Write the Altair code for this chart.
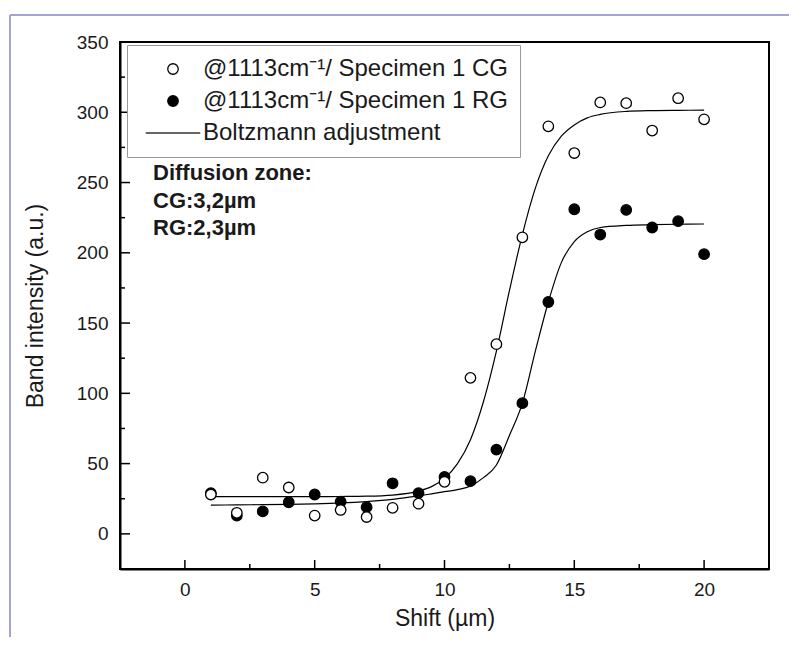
import altair as alt
import pandas as pd

# ---- data ----
shift = [1, 2, 3, 4, 5, 6, 7, 8, 9, 10, 11, 12, 13, 14, 15, 16, 17, 18, 19, 20]
cg_intensity = [28, 15, 40, 33, 13, 17, 12, 18.5, 21.5, 37, 111, 135, 211, 290, 271, 307, 306.5, 287, 310, 295]
rg_intensity = [29, 13, 16, 22.5, 28, 23, 19, 36, 29, 40.5, 37.5, 60, 93, 165, 231, 213, 230.5, 218, 222.5, 199]

fit_shift = [1, 2, 3, 4, 5, 6, 7, 8, 9, 9.5, 10, 10.5, 11, 11.5, 12, 12.5, 13, 13.5, 14, 14.5, 15, 15.5, 16, 17, 18, 19, 20]
cg_fit = [26.5, 26.5, 26.5, 26.5, 26.5, 26.6, 26.8, 27.6, 30.4, 33.6, 39.5, 50, 67, 94, 130, 173, 213, 246, 269, 283, 291, 296, 298.5, 300.6, 301.2, 301.4, 301.5]
rg_fit = [20.5, 20.6, 20.8, 21.0, 21.4, 22.0, 23.0, 24.5, 27.0, 28.5, 30.0, 31.5, 34, 40, 49, 70, 93, 130, 165, 193, 208, 215, 218, 219.5, 220, 220.3, 220.5]

CG = "@1113cm\u207b\u00b9/ Specimen 1 CG"
RG = "@1113cm\u207b\u00b9/ Specimen 1 RG"
FIT = "Boltzmann adjustment"
series_names = [CG, RG, FIT]
annotation_lines = ["Diffusion zone:", "CG:3,2\u00b5m", "RG:2,3\u00b5m"]
x_major = [0, 5, 10, 15, 20]
x_minor = [2.5, 7.5, 12.5, 17.5]
y_major = [0, 50, 100, 150, 200, 250, 300, 350]
y_minor = [25, 75, 125, 175, 225, 275, 325]

points_df = pd.DataFrame({
    "series": [RG] * len(shift) + [CG] * len(shift),
    "shift": shift + shift,
    "intensity": rg_intensity + cg_intensity,
})
fit_df = pd.DataFrame({
    "curve": ["CG"] * len(fit_shift) + ["RG"] * len(fit_shift),
    "shift": fit_shift + fit_shift,
    "intensity": cg_fit + rg_fit,
})
xmaj_df = pd.DataFrame({"shift": x_major})
xmin_df = pd.DataFrame({"shift": x_minor})
ymaj_df = pd.DataFrame({"intensity": y_major})
ymin_df = pd.DataFrame({"intensity": y_minor})
dummy = pd.DataFrame({"k": [0]})

FONT = "Liberation Sans"
INK = "#1a1a1a"

x_scale = alt.Scale(domain=[-2.5, 22.5], nice=False, zero=False)
y_scale = alt.Scale(domain=[-25, 350], nice=False, zero=False)

x_axis = alt.Axis(values=x_major, ticks=False, labelPadding=11, titlePadding=8, grid=False)
y_axis = alt.Axis(values=y_major, ticks=False, labelPadding=12, titlePadding=29, grid=False)

X = alt.X("shift:Q", scale=x_scale, axis=x_axis, title="Shift (\u00b5m)")
Y = alt.Y("intensity:Q", scale=y_scale, axis=y_axis, title="Band intensity (a.u.)")

legend = alt.Legend(
    title=None, orient="none", legendX=7, legendY=3, padding=12,
    strokeColor="#9a9a9a", fillColor="white",
    labelFont=FONT, labelFontSize=24, labelColor=INK, labelLimit=700,
    symbolSize=110, symbolStrokeWidth=1.3,
    symbolOffset=22, labelOffset=18, rowPadding=8,
)

lines = alt.Chart(fit_df).mark_line(
    color="black", strokeWidth=1.2, interpolate="monotone"
).encode(x=X, y=Y, detail="curve:N")

points = alt.Chart(points_df).mark_point(
    filled=True, strokeWidth=1.3, size=110, opacity=1
).encode(
    x=X, y=Y,
    shape=alt.Shape("series:N", scale=alt.Scale(domain=series_names, range=["circle", "circle", "M-5.2,0H5.2"]), legend=legend),
    fill=alt.Fill("series:N", scale=alt.Scale(domain=series_names, range=["white", "black", "transparent"]), legend=legend),
    stroke=alt.Stroke("series:N", scale=alt.Scale(domain=series_names, range=["black", "black", "#333333"]), legend=legend),
)

# inward tick marks
tick_style = dict(color="black", strokeWidth=1.5)
xmaj = alt.Chart(xmaj_df).mark_rule(**tick_style).encode(x=alt.X("shift:Q", scale=x_scale), y=alt.value(527), y2=alt.value(518))
xmin = alt.Chart(xmin_df).mark_rule(**tick_style).encode(x=alt.X("shift:Q", scale=x_scale), y=alt.value(527), y2=alt.value(522))
ymaj = alt.Chart(ymaj_df).mark_rule(**tick_style).encode(y=alt.Y("intensity:Q", scale=y_scale), x=alt.value(0), x2=alt.value(10))
ymin = alt.Chart(ymin_df).mark_rule(**tick_style).encode(y=alt.Y("intensity:Q", scale=y_scale), x=alt.value(0), x2=alt.value(5))

ann = alt.Chart(dummy).mark_text(
    text=annotation_lines, align="left", baseline="alphabetic", font=FONT,
    fontSize=22, fontWeight="bold", lineHeight=27.5, color=INK,
).encode(x=alt.value(33), y=alt.value(138))

border_top = alt.Chart(dummy).mark_rule(color="#a3a3d6", strokeWidth=2).encode(
    x=alt.value(-110), x2=alt.value(700), y=alt.value(-27))
border_left = alt.Chart(dummy).mark_rule(color="#a3a3d6", strokeWidth=2).encode(
    x=alt.value(-110), y=alt.value(-27), y2=alt.value(620))

chart = alt.layer(border_top, border_left, xmaj, xmin, ymaj, ymin, lines, points, ann).properties(
    width=649, height=527,
    autosize=alt.AutoSizeParams(type="none"),
    padding={"left": 112, "top": 34, "right": 20, "bottom": 68},
).configure_view(
    stroke="black", strokeWidth=2
).configure_axis(
    domainColor="black", domainWidth=2,
    labelFont=FONT, labelFontSize=19, labelColor=INK,
    titleFont=FONT, titleFontSize=23, titleFontWeight="normal", titleColor=INK,
)

chart.save("out.html", embed_options={"renderer": "svg", "actions": False})
